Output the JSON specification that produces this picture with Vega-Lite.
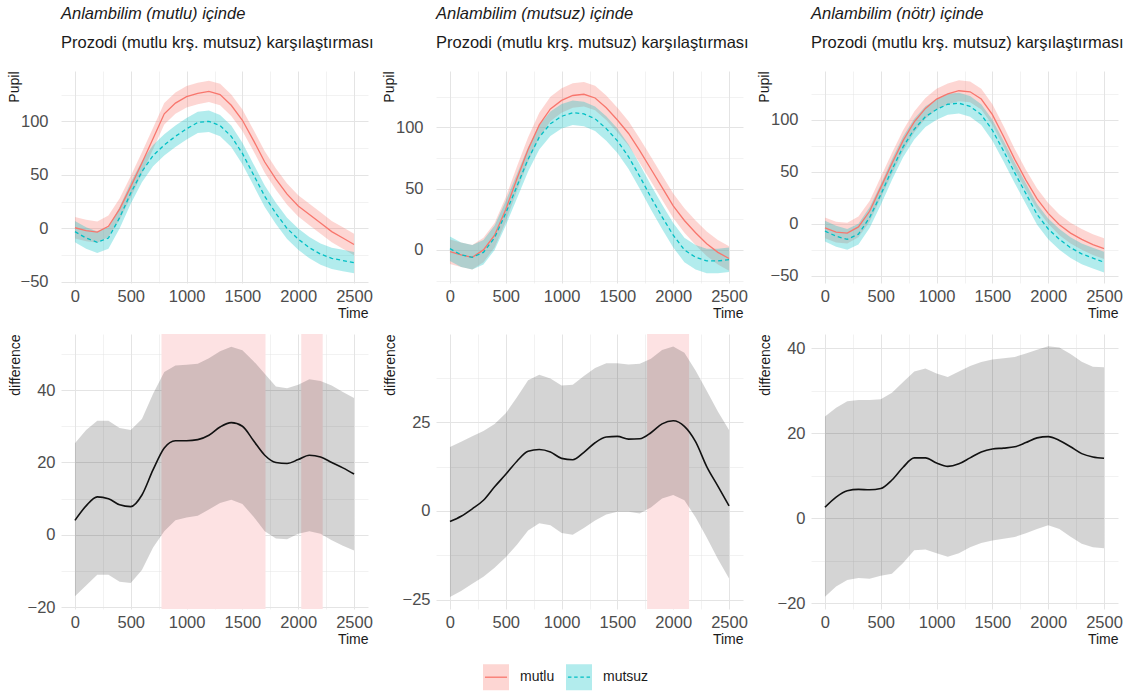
{
  "$schema": "https://vega.github.io/schema/vega-lite/v6.json",
  "padding": {"left": 7, "top": 6, "right": 5, "bottom": 5},
  "datasets": {
    "top": [
      {"p":1,"c":"mutlu","t":0,"v":0.6,"lo":-9.4,"hi":10.6},{"p":1,"c":"mutlu","t":100,"v":-2,"lo":-12,"hi":8},{"p":1,"c":"mutlu","t":200,"v":-3.5,"lo":-13.5,"hi":6.5},{"p":1,"c":"mutlu","t":300,"v":2,"lo":-8,"hi":12},{"p":1,"c":"mutlu","t":400,"v":18,"lo":8,"hi":28},{"p":1,"c":"mutlu","t":500,"v":39,"lo":29,"hi":49},{"p":1,"c":"mutlu","t":600,"v":61,"lo":51,"hi":71},{"p":1,"c":"mutlu","t":700,"v":84,"lo":74,"hi":94},{"p":1,"c":"mutlu","t":800,"v":107,"lo":97,"hi":117},{"p":1,"c":"mutlu","t":900,"v":117,"lo":107,"hi":127},{"p":1,"c":"mutlu","t":1000,"v":123,"lo":113,"hi":133},{"p":1,"c":"mutlu","t":1100,"v":126,"lo":116,"hi":136},{"p":1,"c":"mutlu","t":1200,"v":128,"lo":118,"hi":138},{"p":1,"c":"mutlu","t":1300,"v":125,"lo":115,"hi":135},{"p":1,"c":"mutlu","t":1400,"v":115,"lo":105,"hi":125},{"p":1,"c":"mutlu","t":1500,"v":101,"lo":91,"hi":111},{"p":1,"c":"mutlu","t":1600,"v":82,"lo":72,"hi":92},{"p":1,"c":"mutlu","t":1700,"v":62,"lo":52,"hi":72},{"p":1,"c":"mutlu","t":1800,"v":46,"lo":36,"hi":56},{"p":1,"c":"mutlu","t":1900,"v":32,"lo":22,"hi":42},{"p":1,"c":"mutlu","t":2000,"v":21,"lo":11,"hi":31},{"p":1,"c":"mutlu","t":2100,"v":13,"lo":3,"hi":23},{"p":1,"c":"mutlu","t":2200,"v":5,"lo":-5,"hi":15},{"p":1,"c":"mutlu","t":2300,"v":-3,"lo":-13,"hi":7},{"p":1,"c":"mutlu","t":2400,"v":-9,"lo":-19,"hi":1},{"p":1,"c":"mutlu","t":2500,"v":-15,"lo":-25,"hi":-5},
      {"p":1,"c":"mutsuz","t":0,"v":-3,"lo":-13,"hi":7},{"p":1,"c":"mutsuz","t":100,"v":-9,"lo":-19,"hi":1},{"p":1,"c":"mutsuz","t":200,"v":-13,"lo":-23,"hi":-3},{"p":1,"c":"mutsuz","t":300,"v":-9,"lo":-19,"hi":1},{"p":1,"c":"mutsuz","t":400,"v":10,"lo":0,"hi":20},{"p":1,"c":"mutsuz","t":500,"v":33,"lo":23,"hi":43},{"p":1,"c":"mutsuz","t":600,"v":53,"lo":43,"hi":63},{"p":1,"c":"mutsuz","t":700,"v":68,"lo":58,"hi":78},{"p":1,"c":"mutsuz","t":800,"v":78,"lo":68,"hi":88},{"p":1,"c":"mutsuz","t":900,"v":86,"lo":76,"hi":96},{"p":1,"c":"mutsuz","t":1000,"v":93,"lo":83,"hi":103},{"p":1,"c":"mutsuz","t":1100,"v":99,"lo":89,"hi":109},{"p":1,"c":"mutsuz","t":1200,"v":100,"lo":90,"hi":110},{"p":1,"c":"mutsuz","t":1300,"v":96,"lo":86,"hi":106},{"p":1,"c":"mutsuz","t":1400,"v":86,"lo":76,"hi":96},{"p":1,"c":"mutsuz","t":1500,"v":70,"lo":60,"hi":80},{"p":1,"c":"mutsuz","t":1600,"v":50,"lo":40,"hi":60},{"p":1,"c":"mutsuz","t":1700,"v":30,"lo":20,"hi":40},{"p":1,"c":"mutsuz","t":1800,"v":14,"lo":4,"hi":24},{"p":1,"c":"mutsuz","t":1900,"v":0,"lo":-10,"hi":10},{"p":1,"c":"mutsuz","t":2000,"v":-10,"lo":-20,"hi":0},{"p":1,"c":"mutsuz","t":2100,"v":-18,"lo":-28,"hi":-8},{"p":1,"c":"mutsuz","t":2200,"v":-24,"lo":-34,"hi":-14},{"p":1,"c":"mutsuz","t":2300,"v":-28,"lo":-38,"hi":-18},{"p":1,"c":"mutsuz","t":2400,"v":-30,"lo":-40,"hi":-20},{"p":1,"c":"mutsuz","t":2500,"v":-32,"lo":-42,"hi":-22},
      {"p":2,"c":"mutlu","t":0,"v":-1.4,"lo":-11.4,"hi":8.6},{"p":2,"c":"mutlu","t":100,"v":-4,"lo":-14,"hi":6},{"p":2,"c":"mutlu","t":200,"v":-6,"lo":-16,"hi":4},{"p":2,"c":"mutlu","t":300,"v":0,"lo":-10,"hi":10},{"p":2,"c":"mutlu","t":400,"v":12,"lo":2,"hi":22},{"p":2,"c":"mutlu","t":500,"v":33,"lo":23,"hi":43},{"p":2,"c":"mutlu","t":600,"v":58,"lo":48,"hi":68},{"p":2,"c":"mutlu","t":700,"v":82,"lo":72,"hi":92},{"p":2,"c":"mutlu","t":800,"v":102,"lo":92,"hi":112},{"p":2,"c":"mutlu","t":900,"v":115,"lo":105,"hi":125},{"p":2,"c":"mutlu","t":1000,"v":122,"lo":112,"hi":132},{"p":2,"c":"mutlu","t":1100,"v":126,"lo":116,"hi":136},{"p":2,"c":"mutlu","t":1200,"v":127,"lo":117,"hi":137},{"p":2,"c":"mutlu","t":1300,"v":124,"lo":114,"hi":134},{"p":2,"c":"mutlu","t":1400,"v":116,"lo":106,"hi":126},{"p":2,"c":"mutlu","t":1500,"v":106,"lo":96,"hi":116},{"p":2,"c":"mutlu","t":1600,"v":95,"lo":85,"hi":105},{"p":2,"c":"mutlu","t":1700,"v":81,"lo":71,"hi":91},{"p":2,"c":"mutlu","t":1800,"v":66,"lo":56,"hi":76},{"p":2,"c":"mutlu","t":1900,"v":51,"lo":41,"hi":61},{"p":2,"c":"mutlu","t":2000,"v":36,"lo":26,"hi":46},{"p":2,"c":"mutlu","t":2100,"v":24,"lo":14,"hi":34},{"p":2,"c":"mutlu","t":2200,"v":14,"lo":4,"hi":24},{"p":2,"c":"mutlu","t":2300,"v":5,"lo":-5,"hi":15},{"p":2,"c":"mutlu","t":2400,"v":-2,"lo":-12,"hi":8},{"p":2,"c":"mutlu","t":2500,"v":-7,"lo":-17,"hi":3},
      {"p":2,"c":"mutsuz","t":0,"v":1,"lo":-9,"hi":11},{"p":2,"c":"mutsuz","t":100,"v":-4,"lo":-14,"hi":6},{"p":2,"c":"mutsuz","t":200,"v":-6,"lo":-16,"hi":4},{"p":2,"c":"mutsuz","t":300,"v":-2,"lo":-12,"hi":8},{"p":2,"c":"mutsuz","t":400,"v":10,"lo":0,"hi":20},{"p":2,"c":"mutsuz","t":500,"v":30,"lo":20,"hi":40},{"p":2,"c":"mutsuz","t":600,"v":52,"lo":42,"hi":62},{"p":2,"c":"mutsuz","t":700,"v":74,"lo":64,"hi":84},{"p":2,"c":"mutsuz","t":800,"v":92,"lo":82,"hi":102},{"p":2,"c":"mutsuz","t":900,"v":103,"lo":93,"hi":113},{"p":2,"c":"mutsuz","t":1000,"v":109,"lo":99,"hi":119},{"p":2,"c":"mutsuz","t":1100,"v":112,"lo":102,"hi":122},{"p":2,"c":"mutsuz","t":1200,"v":111,"lo":101,"hi":121},{"p":2,"c":"mutsuz","t":1300,"v":107,"lo":97,"hi":117},{"p":2,"c":"mutsuz","t":1400,"v":99,"lo":89,"hi":109},{"p":2,"c":"mutsuz","t":1500,"v":89,"lo":79,"hi":99},{"p":2,"c":"mutsuz","t":1600,"v":76,"lo":66,"hi":86},{"p":2,"c":"mutsuz","t":1700,"v":60,"lo":50,"hi":70},{"p":2,"c":"mutsuz","t":1800,"v":43,"lo":33,"hi":53},{"p":2,"c":"mutsuz","t":1900,"v":27,"lo":17,"hi":37},{"p":2,"c":"mutsuz","t":2000,"v":12,"lo":2,"hi":22},{"p":2,"c":"mutsuz","t":2100,"v":0,"lo":-10,"hi":10},{"p":2,"c":"mutsuz","t":2200,"v":-6,"lo":-16,"hi":4},{"p":2,"c":"mutsuz","t":2300,"v":-9,"lo":-19,"hi":1},{"p":2,"c":"mutsuz","t":2400,"v":-9,"lo":-19,"hi":1},{"p":2,"c":"mutsuz","t":2500,"v":-8,"lo":-18,"hi":2},
      {"p":3,"c":"mutlu","t":0,"v":-4,"lo":-14,"hi":6},{"p":3,"c":"mutlu","t":100,"v":-8,"lo":-18,"hi":2},{"p":3,"c":"mutlu","t":200,"v":-9,"lo":-19,"hi":1},{"p":3,"c":"mutlu","t":300,"v":-3,"lo":-13,"hi":7},{"p":3,"c":"mutlu","t":400,"v":12,"lo":2,"hi":22},{"p":3,"c":"mutlu","t":500,"v":35,"lo":25,"hi":45},{"p":3,"c":"mutlu","t":600,"v":58,"lo":48,"hi":68},{"p":3,"c":"mutlu","t":700,"v":80,"lo":70,"hi":90},{"p":3,"c":"mutlu","t":800,"v":98,"lo":88,"hi":108},{"p":3,"c":"mutlu","t":900,"v":111,"lo":101,"hi":121},{"p":3,"c":"mutlu","t":1000,"v":120,"lo":110,"hi":130},{"p":3,"c":"mutlu","t":1100,"v":125,"lo":115,"hi":135},{"p":3,"c":"mutlu","t":1200,"v":128,"lo":118,"hi":138},{"p":3,"c":"mutlu","t":1300,"v":127,"lo":117,"hi":137},{"p":3,"c":"mutlu","t":1400,"v":120,"lo":110,"hi":130},{"p":3,"c":"mutlu","t":1500,"v":105,"lo":95,"hi":115},{"p":3,"c":"mutlu","t":1600,"v":84,"lo":74,"hi":94},{"p":3,"c":"mutlu","t":1700,"v":62,"lo":52,"hi":72},{"p":3,"c":"mutlu","t":1800,"v":42,"lo":32,"hi":52},{"p":3,"c":"mutlu","t":1900,"v":24,"lo":14,"hi":34},{"p":3,"c":"mutlu","t":2000,"v":10,"lo":0,"hi":20},{"p":3,"c":"mutlu","t":2100,"v":-1,"lo":-11,"hi":9},{"p":3,"c":"mutlu","t":2200,"v":-9,"lo":-19,"hi":1},{"p":3,"c":"mutlu","t":2300,"v":-15,"lo":-25,"hi":-5},{"p":3,"c":"mutlu","t":2400,"v":-20,"lo":-30,"hi":-10},{"p":3,"c":"mutlu","t":2500,"v":-24,"lo":-34,"hi":-14},
      {"p":3,"c":"mutsuz","t":0,"v":-7,"lo":-17,"hi":3},{"p":3,"c":"mutsuz","t":100,"v":-12,"lo":-22,"hi":-2},{"p":3,"c":"mutsuz","t":200,"v":-15,"lo":-25,"hi":-5},{"p":3,"c":"mutsuz","t":300,"v":-10,"lo":-20,"hi":0},{"p":3,"c":"mutsuz","t":400,"v":6,"lo":-4,"hi":16},{"p":3,"c":"mutsuz","t":500,"v":28,"lo":18,"hi":38},{"p":3,"c":"mutsuz","t":600,"v":52,"lo":42,"hi":62},{"p":3,"c":"mutsuz","t":700,"v":74,"lo":64,"hi":84},{"p":3,"c":"mutsuz","t":800,"v":91,"lo":81,"hi":101},{"p":3,"c":"mutsuz","t":900,"v":103,"lo":93,"hi":113},{"p":3,"c":"mutsuz","t":1000,"v":110,"lo":100,"hi":120},{"p":3,"c":"mutsuz","t":1100,"v":115,"lo":105,"hi":125},{"p":3,"c":"mutsuz","t":1200,"v":116,"lo":106,"hi":126},{"p":3,"c":"mutsuz","t":1300,"v":113,"lo":103,"hi":123},{"p":3,"c":"mutsuz","t":1400,"v":105,"lo":95,"hi":115},{"p":3,"c":"mutsuz","t":1500,"v":90,"lo":80,"hi":100},{"p":3,"c":"mutsuz","t":1600,"v":70,"lo":60,"hi":80},{"p":3,"c":"mutsuz","t":1700,"v":49,"lo":39,"hi":59},{"p":3,"c":"mutsuz","t":1800,"v":29,"lo":19,"hi":39},{"p":3,"c":"mutsuz","t":1900,"v":9,"lo":-1,"hi":19},{"p":3,"c":"mutsuz","t":2000,"v":-5,"lo":-15,"hi":5},{"p":3,"c":"mutsuz","t":2100,"v":-15,"lo":-25,"hi":-5},{"p":3,"c":"mutsuz","t":2200,"v":-23,"lo":-33,"hi":-13},{"p":3,"c":"mutsuz","t":2300,"v":-29,"lo":-39,"hi":-19},{"p":3,"c":"mutsuz","t":2400,"v":-33,"lo":-43,"hi":-23},{"p":3,"c":"mutsuz","t":2500,"v":-37,"lo":-47,"hi":-27}
    ],
    "diff": [
      {"p":4,"t":0,"v":4,"lo":-17,"hi":25.3},{"p":4,"t":100,"v":8,"lo":-14,"hi":29},{"p":4,"t":200,"v":10.5,"lo":-11,"hi":31.5},{"p":4,"t":300,"v":10,"lo":-11,"hi":31.5},{"p":4,"t":400,"v":8.3,"lo":-13,"hi":29.5},{"p":4,"t":500,"v":7.8,"lo":-13.3,"hi":29},{"p":4,"t":600,"v":11,"lo":-9.7,"hi":32},{"p":4,"t":700,"v":18,"lo":-3.5,"hi":39},{"p":4,"t":800,"v":24,"lo":1,"hi":45},{"p":4,"t":900,"v":26,"lo":4,"hi":46.8},{"p":4,"t":1000,"v":26,"lo":4.8,"hi":47},{"p":4,"t":1100,"v":26.3,"lo":5.3,"hi":47.3},{"p":4,"t":1200,"v":27.5,"lo":7,"hi":48.8},{"p":4,"t":1300,"v":29.8,"lo":8.8,"hi":50.7},{"p":4,"t":1400,"v":31,"lo":9.7,"hi":52},{"p":4,"t":1500,"v":30,"lo":8.5,"hi":51},{"p":4,"t":1600,"v":26,"lo":5,"hi":48},{"p":4,"t":1700,"v":22,"lo":1,"hi":44.5},{"p":4,"t":1800,"v":20,"lo":-1,"hi":41},{"p":4,"t":1900,"v":19.7,"lo":-1.2,"hi":40.5},{"p":4,"t":2000,"v":20.8,"lo":0.3,"hi":41.5},{"p":4,"t":2100,"v":22,"lo":1,"hi":43},{"p":4,"t":2200,"v":21.5,"lo":0.3,"hi":42.5},{"p":4,"t":2300,"v":20,"lo":-1.5,"hi":41.3},{"p":4,"t":2400,"v":18.5,"lo":-3,"hi":39.5},{"p":4,"t":2500,"v":16.8,"lo":-4.3,"hi":37.8},
      {"p":5,"t":0,"v":-3,"lo":-24.2,"hi":18},{"p":5,"t":100,"v":-1.5,"lo":-22.5,"hi":19.5},{"p":5,"t":200,"v":0.6,"lo":-20.5,"hi":21},{"p":5,"t":300,"v":3,"lo":-18.5,"hi":22.5},{"p":5,"t":400,"v":6.8,"lo":-16,"hi":24.5},{"p":5,"t":500,"v":10.3,"lo":-13,"hi":27.5},{"p":5,"t":600,"v":14,"lo":-9.5,"hi":32},{"p":5,"t":700,"v":16.8,"lo":-5.5,"hi":36.8},{"p":5,"t":800,"v":17.3,"lo":-3.5,"hi":38.3},{"p":5,"t":900,"v":16.6,"lo":-4,"hi":37.3},{"p":5,"t":1000,"v":14.8,"lo":-6.2,"hi":35.3},{"p":5,"t":1100,"v":14.4,"lo":-6.7,"hi":35.5},{"p":5,"t":1200,"v":16.5,"lo":-4.8,"hi":38},{"p":5,"t":1300,"v":19.2,"lo":-2.7,"hi":40.2},{"p":5,"t":1400,"v":20.8,"lo":-1,"hi":41.6},{"p":5,"t":1500,"v":21,"lo":-0.2,"hi":41.6},{"p":5,"t":1600,"v":20.2,"lo":-0.2,"hi":41.2},{"p":5,"t":1700,"v":20.3,"lo":-0.7,"hi":41.4},{"p":5,"t":1800,"v":22,"lo":1,"hi":42.8},{"p":5,"t":1900,"v":24.5,"lo":3.5,"hi":45.3},{"p":5,"t":2000,"v":25.4,"lo":4.5,"hi":46.3},{"p":5,"t":2100,"v":23.8,"lo":3,"hi":44.5},{"p":5,"t":2200,"v":19.5,"lo":-1.8,"hi":39.5},{"p":5,"t":2300,"v":12.5,"lo":-7.5,"hi":33.8},{"p":5,"t":2400,"v":7,"lo":-13.5,"hi":28},{"p":5,"t":2500,"v":1.4,"lo":-19,"hi":22.8},
      {"p":6,"t":0,"v":2.6,"lo":-18.4,"hi":23.9},{"p":6,"t":100,"v":5,"lo":-16,"hi":26},{"p":6,"t":200,"v":6.5,"lo":-14.5,"hi":27.5},{"p":6,"t":300,"v":6.8,"lo":-14,"hi":27.8},{"p":6,"t":400,"v":6.7,"lo":-14.2,"hi":27.8},{"p":6,"t":500,"v":7,"lo":-13.5,"hi":28},{"p":6,"t":600,"v":9,"lo":-13,"hi":29.5},{"p":6,"t":700,"v":12,"lo":-10.5,"hi":32},{"p":6,"t":800,"v":14.2,"lo":-7.5,"hi":34.5},{"p":6,"t":900,"v":14.2,"lo":-7.3,"hi":35.2},{"p":6,"t":1000,"v":13,"lo":-8.2,"hi":34},{"p":6,"t":1100,"v":12.2,"lo":-9,"hi":33.2},{"p":6,"t":1200,"v":12.8,"lo":-8.2,"hi":34.5},{"p":6,"t":1300,"v":14.2,"lo":-6.8,"hi":35.8},{"p":6,"t":1400,"v":15.6,"lo":-5.8,"hi":36.7},{"p":6,"t":1500,"v":16.3,"lo":-5.2,"hi":37.3},{"p":6,"t":1600,"v":16.5,"lo":-4.8,"hi":37.6},{"p":6,"t":1700,"v":16.8,"lo":-4.4,"hi":37.9},{"p":6,"t":1800,"v":17.8,"lo":-3.5,"hi":38.7},{"p":6,"t":1900,"v":18.9,"lo":-2.5,"hi":39.6},{"p":6,"t":2000,"v":19.2,"lo":-1.6,"hi":40.4},{"p":6,"t":2100,"v":18.3,"lo":-2.5,"hi":40.1},{"p":6,"t":2200,"v":16.8,"lo":-4.3,"hi":38.6},{"p":6,"t":2300,"v":15.2,"lo":-6,"hi":36.8},{"p":6,"t":2400,"v":14.4,"lo":-6.8,"hi":35.6},{"p":6,"t":2500,"v":14.1,"lo":-7,"hi":35.5}
    ],
    "sig": [
      {"p":4,"start":775,"end":1707},{"p":4,"start":2027,"end":2219},{"p":5,"start":1766,"end":2142}
    ]
  },
  "concat": [
    {
      "hconcat": [
        {
          "width": 307, "height": 212,
          "title": {"text": "Anlambilim (mutlu) içinde", "subtitle": "Prozodi (mutlu krş. mutsuz) karşılaştırması"},
          "data": {"name": "top"},
          "transform": [{"filter": "datum.p === 1"}],
          "layer": [
            {"mark": {"type": "area", "fillOpacity": 0.3},
             "encoding": {
               "x": {"field": "t", "type": "quantitative", "scale": {"domain": [-125, 2625], "nice": false, "zero": false}, "axis": {"title": "Time", "tickCount": 100, "labelOverlap": false, "values": [0,250,500,750,1000,1250,1500,1750,2000,2250,2500], "format": "d", "labelExpr": "datum.value % 500 === 0 ? datum.label : ''", "gridWidth": {"condition": {"test": "datum.value % 500 === 0", "value": 1}, "value": 0.5}}},
               "y": {"field": "lo", "type": "quantitative", "scale": {"domain": [-51, 147], "nice": false, "zero": false}, "axis": {"title": "Pupil", "tickCount": 100, "labelOverlap": false, "values": [-50,-25,0,25,50,75,100,125], "format": "d", "labelExpr": "datum.value % 50 === 0 ? datum.label : ''", "gridWidth": {"condition": {"test": "datum.value % 50 === 0", "value": 1}, "value": 0.5}, "labelPadding": 13, "minExtent": 38, "maxExtent": 38, "titlePadding": 2}},
               "y2": {"field": "hi"},
               "color": {"field": "c", "type": "nominal", "scale": {"domain": ["mutlu", "mutsuz"], "range": ["#F8766D", "#00BFC4"]},
                 "legend": {"title": null, "encode": {"symbols": {"update": {"fillOpacity": {"value": 0.3}, "strokeWidth": {"value": 1.3}, "strokeDash": {"signal": "datum.value === 'mutsuz' ? [3.5,2.7,3.5,2.7,3.5,2.7,3.5,202] : [22.1,202]"}}}}}}
             }},
            {"transform": [{"filter": "datum.c === 'mutlu'"}],
             "mark": {"type": "line", "strokeWidth": 1.3},
             "encoding": {"x": {"field": "t", "type": "quantitative"}, "y": {"field": "v", "type": "quantitative"}, "color": {"field": "c", "type": "nominal"}}},
            {"transform": [{"filter": "datum.c === 'mutsuz'"}],
             "mark": {"type": "line", "strokeWidth": 1.3, "strokeDash": [4, 3]},
             "encoding": {"x": {"field": "t", "type": "quantitative"}, "y": {"field": "v", "type": "quantitative"}, "color": {"field": "c", "type": "nominal"}}}
          ]
        },
        {
          "width": 307, "height": 212,
          "title": {"text": "Anlambilim (mutsuz) içinde", "subtitle": "Prozodi (mutlu krş. mutsuz) karşılaştırması"},
          "data": {"name": "top"},
          "transform": [{"filter": "datum.p === 2"}],
          "layer": [
            {"mark": {"type": "area", "fillOpacity": 0.3},
             "encoding": {
               "x": {"field": "t", "type": "quantitative", "scale": {"domain": [-125, 2625], "nice": false, "zero": false}, "axis": {"title": "Time", "tickCount": 100, "labelOverlap": false, "values": [0,250,500,750,1000,1250,1500,1750,2000,2250,2500], "format": "d", "labelExpr": "datum.value % 500 === 0 ? datum.label : ''", "gridWidth": {"condition": {"test": "datum.value % 500 === 0", "value": 1}, "value": 0.5}}},
               "y": {"field": "lo", "type": "quantitative", "scale": {"domain": [-27, 146], "nice": false, "zero": false}, "axis": {"title": "Pupil", "tickCount": 100, "labelOverlap": false, "values": [-25,0,25,50,75,100,125], "format": "d", "labelExpr": "datum.value % 50 === 0 ? datum.label : ''", "gridWidth": {"condition": {"test": "datum.value % 50 === 0", "value": 1}, "value": 0.5}, "labelPadding": 13, "minExtent": 38, "maxExtent": 38, "titlePadding": 2}},
               "y2": {"field": "hi"},
               "color": {"field": "c", "type": "nominal", "scale": {"domain": ["mutlu", "mutsuz"], "range": ["#F8766D", "#00BFC4"]},
                 "legend": {"title": null, "encode": {"symbols": {"update": {"fillOpacity": {"value": 0.3}, "strokeWidth": {"value": 1.3}, "strokeDash": {"signal": "datum.value === 'mutsuz' ? [3.5,2.7,3.5,2.7,3.5,2.7,3.5,202] : [22.1,202]"}}}}}}
             }},
            {"transform": [{"filter": "datum.c === 'mutlu'"}],
             "mark": {"type": "line", "strokeWidth": 1.3},
             "encoding": {"x": {"field": "t", "type": "quantitative"}, "y": {"field": "v", "type": "quantitative"}, "color": {"field": "c", "type": "nominal"}}},
            {"transform": [{"filter": "datum.c === 'mutsuz'"}],
             "mark": {"type": "line", "strokeWidth": 1.3, "strokeDash": [4, 3]},
             "encoding": {"x": {"field": "t", "type": "quantitative"}, "y": {"field": "v", "type": "quantitative"}, "color": {"field": "c", "type": "nominal"}}}
          ]
        },
        {
          "width": 307, "height": 212,
          "title": {"text": "Anlambilim (nötr) içinde", "subtitle": "Prozodi (mutlu krş. mutsuz) karşılaştırması"},
          "data": {"name": "top"},
          "transform": [{"filter": "datum.p === 3"}],
          "layer": [
            {"mark": {"type": "area", "fillOpacity": 0.3},
             "encoding": {
               "x": {"field": "t", "type": "quantitative", "scale": {"domain": [-125, 2625], "nice": false, "zero": false}, "axis": {"title": "Time", "tickCount": 100, "labelOverlap": false, "values": [0,250,500,750,1000,1250,1500,1750,2000,2250,2500], "format": "d", "labelExpr": "datum.value % 500 === 0 ? datum.label : ''", "gridWidth": {"condition": {"test": "datum.value % 500 === 0", "value": 1}, "value": 0.5}}},
               "y": {"field": "lo", "type": "quantitative", "scale": {"domain": [-57, 147], "nice": false, "zero": false}, "axis": {"title": "Pupil", "tickCount": 100, "labelOverlap": false, "values": [-50,-25,0,25,50,75,100,125], "format": "d", "labelExpr": "datum.value % 50 === 0 ? datum.label : ''", "gridWidth": {"condition": {"test": "datum.value % 50 === 0", "value": 1}, "value": 0.5}, "labelPadding": 13, "minExtent": 38, "maxExtent": 38, "titlePadding": 2}},
               "y2": {"field": "hi"},
               "color": {"field": "c", "type": "nominal", "scale": {"domain": ["mutlu", "mutsuz"], "range": ["#F8766D", "#00BFC4"]},
                 "legend": {"title": null, "encode": {"symbols": {"update": {"fillOpacity": {"value": 0.3}, "strokeWidth": {"value": 1.3}, "strokeDash": {"signal": "datum.value === 'mutsuz' ? [3.5,2.7,3.5,2.7,3.5,2.7,3.5,202] : [22.1,202]"}}}}}}
             }},
            {"transform": [{"filter": "datum.c === 'mutlu'"}],
             "mark": {"type": "line", "strokeWidth": 1.3},
             "encoding": {"x": {"field": "t", "type": "quantitative"}, "y": {"field": "v", "type": "quantitative"}, "color": {"field": "c", "type": "nominal"}}},
            {"transform": [{"filter": "datum.c === 'mutsuz'"}],
             "mark": {"type": "line", "strokeWidth": 1.3, "strokeDash": [4, 3]},
             "encoding": {"x": {"field": "t", "type": "quantitative"}, "y": {"field": "v", "type": "quantitative"}, "color": {"field": "c", "type": "nominal"}}}
          ]
        }
      ],
      "bounds": "flush",
      "spacing": 68
    },
    {
      "hconcat": [
        {
          "width": 307, "height": 275,
          "layer": [
            {"data": {"name": "sig"}, "transform": [{"filter": "datum.p === 4"}],
             "mark": {"type": "rect", "color": "#fde2e3"},
             "encoding": {"x": {"field": "start", "type": "quantitative", "scale": {"domain": [-125, 2625], "nice": false, "zero": false}, "title": "Time"}, "x2": {"field": "end"}}},
            {"data": {"name": "diff"}, "transform": [{"filter": "datum.p === 4"}],
             "mark": {"type": "area", "color": "#000000", "fillOpacity": 0.17},
             "encoding": {
               "x": {"field": "t", "type": "quantitative", "title": "Time", "axis": {"title": "Time", "tickCount": 100, "labelOverlap": false, "values": [0,250,500,750,1000,1250,1500,1750,2000,2250,2500], "format": "d", "labelExpr": "datum.value % 500 === 0 ? datum.label : ''", "gridWidth": {"condition": {"test": "datum.value % 500 === 0", "value": 1}, "value": 0.5}}},
               "y": {"field": "lo", "type": "quantitative", "scale": {"domain": [-20.5, 55.5], "nice": false, "zero": false}, "axis": {"title": "difference", "tickCount": 100, "labelOverlap": false, "values": [-20,-10,0,10,20,30,40,50], "format": "d", "labelExpr": "datum.value % 20 === 0 ? datum.label : ''", "gridWidth": {"condition": {"test": "datum.value % 20 === 0", "value": 1}, "value": 0.5}, "labelPadding": 6, "minExtent": 31, "maxExtent": 31, "titlePadding": 8}},
               "y2": {"field": "hi"}
             }},
            {"mark": {"type": "rule", "color": "#555555", "strokeWidth": 1.2}, "encoding": {"y": {"datum": 0}}},
            {"data": {"name": "diff"}, "transform": [{"filter": "datum.p === 4"}],
             "mark": {"type": "line", "color": "#111111", "strokeWidth": 1.6, "interpolate": "monotone"},
             "encoding": {"x": {"field": "t", "type": "quantitative"}, "y": {"field": "v", "type": "quantitative"}}}
          ]
        },
        {
          "width": 307, "height": 275,
          "layer": [
            {"data": {"name": "sig"}, "transform": [{"filter": "datum.p === 5"}],
             "mark": {"type": "rect", "color": "#fde2e3"},
             "encoding": {"x": {"field": "start", "type": "quantitative", "scale": {"domain": [-125, 2625], "nice": false, "zero": false}, "title": "Time"}, "x2": {"field": "end"}}},
            {"data": {"name": "diff"}, "transform": [{"filter": "datum.p === 5"}],
             "mark": {"type": "area", "color": "#000000", "fillOpacity": 0.17},
             "encoding": {
               "x": {"field": "t", "type": "quantitative", "title": "Time", "axis": {"title": "Time", "tickCount": 100, "labelOverlap": false, "values": [0,250,500,750,1000,1250,1500,1750,2000,2250,2500], "format": "d", "labelExpr": "datum.value % 500 === 0 ? datum.label : ''", "gridWidth": {"condition": {"test": "datum.value % 500 === 0", "value": 1}, "value": 0.5}}},
               "y": {"field": "lo", "type": "quantitative", "scale": {"domain": [-27.6, 49.8], "nice": false, "zero": false}, "axis": {"title": "difference", "tickCount": 100, "labelOverlap": false, "values": [-25,-12.5,0,12.5,25,37.5], "format": "d", "labelExpr": "datum.value % 25 === 0 ? datum.label : ''", "gridWidth": {"condition": {"test": "datum.value % 25 === 0", "value": 1}, "value": 0.5}, "labelPadding": 6, "minExtent": 31, "maxExtent": 31, "titlePadding": 8}},
               "y2": {"field": "hi"}
             }},
            {"mark": {"type": "rule", "color": "#555555", "strokeWidth": 1.2}, "encoding": {"y": {"datum": 0}}},
            {"data": {"name": "diff"}, "transform": [{"filter": "datum.p === 5"}],
             "mark": {"type": "line", "color": "#111111", "strokeWidth": 1.6, "interpolate": "monotone"},
             "encoding": {"x": {"field": "t", "type": "quantitative"}, "y": {"field": "v", "type": "quantitative"}}}
          ]
        },
        {
          "width": 307, "height": 275,
          "layer": [
            {"data": {"name": "diff"}, "transform": [{"filter": "datum.p === 6"}],
             "mark": {"type": "area", "color": "#000000", "fillOpacity": 0.17},
             "encoding": {
               "x": {"field": "t", "type": "quantitative", "scale": {"domain": [-125, 2625], "nice": false, "zero": false}, "axis": {"title": "Time", "tickCount": 100, "labelOverlap": false, "values": [0,250,500,750,1000,1250,1500,1750,2000,2250,2500], "format": "d", "labelExpr": "datum.value % 500 === 0 ? datum.label : ''", "gridWidth": {"condition": {"test": "datum.value % 500 === 0", "value": 1}, "value": 0.5}}},
               "y": {"field": "lo", "type": "quantitative", "scale": {"domain": [-21.3, 43.3], "nice": false, "zero": false}, "axis": {"title": "difference", "tickCount": 100, "labelOverlap": false, "values": [-20,-10,0,10,20,30,40], "format": "d", "labelExpr": "datum.value % 20 === 0 ? datum.label : ''", "gridWidth": {"condition": {"test": "datum.value % 20 === 0", "value": 1}, "value": 0.5}, "labelPadding": 6, "minExtent": 31, "maxExtent": 31, "titlePadding": 8}},
               "y2": {"field": "hi"}
             }},
            {"mark": {"type": "rule", "color": "#555555", "strokeWidth": 1.2}, "encoding": {"y": {"datum": 0}}},
            {"data": {"name": "diff"}, "transform": [{"filter": "datum.p === 6"}],
             "mark": {"type": "line", "color": "#111111", "strokeWidth": 1.6, "interpolate": "monotone"},
             "encoding": {"x": {"field": "t", "type": "quantitative"}, "y": {"field": "v", "type": "quantitative"}}}
          ]
        }
      ],
      "bounds": "flush",
      "spacing": 68
    }
  ],
  "columns": 1,
  "spacing": 12,
  "config": {
    "view": {"stroke": null},
    "font": "Liberation Sans",
    "axis": {"domain": false, "ticks": false, "tickSize": 0, "gridColor": "#e4e4e4", "labelFont": "Liberation Sans", "labelFontSize": 16.5, "labelColor": "#4d4d4d", "labelOverlap": false, "titleFont": "Liberation Sans", "titleFontSize": 14, "titleFontWeight": "normal", "titleColor": "#1a1a1a"},
    "axisX": {"labelPadding": 5, "titlePadding": 2, "titleAnchor": "end", "labelFlush": false},
    "axisY": {"titleAnchor": "end"},
    "title": {"anchor": "start", "frame": "group", "font": "Liberation Sans", "fontSize": 16.5, "fontStyle": "italic", "fontWeight": "normal", "color": "#1a1a1a", "subtitleFont": "Liberation Sans", "subtitleFontSize": 16.5, "subtitleColor": "#1a1a1a", "subtitleFontStyle": "normal", "subtitlePadding": 12, "offset": 20},
    "legend": {
      "orient": "bottom", "direction": "horizontal", "offset": 16,
      "symbolType": "M-0.85,0H0.85H1V1H-1V-1H1V0H0.85Z", "symbolSize": 676, "symbolStrokeWidth": 1.3,
      "labelFont": "Liberation Sans", "labelFontSize": 14, "labelColor": "#1a1a1a", "labelOffset": 10, "columnPadding": 8,
      "layout": {"bottom": {"anchor": "middle"}}
    }
  }
}
